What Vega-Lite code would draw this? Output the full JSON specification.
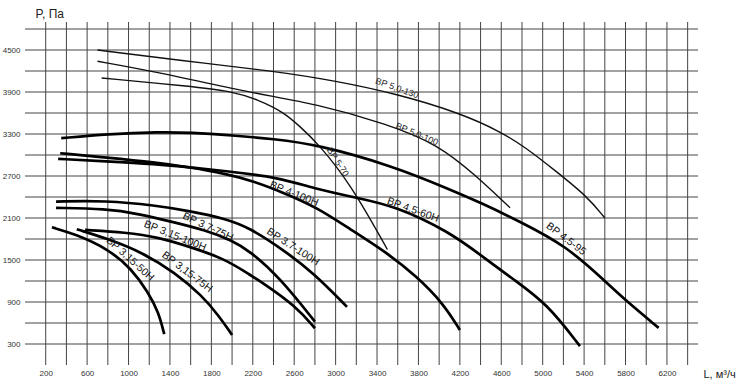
{
  "$schema": "https://vega.github.io/schema/vega-lite/v6.json",
  "autosize": {"type": "none"},
  "padding": {"left": 25, "top": 22, "right": 57, "bottom": 23},
  "width": 673,
  "height": 343,
  "background": "white",
  "config": {
    "view": {"stroke": null},
    "font": "Liberation Sans",
    "axis": {
      "labelFont": "Liberation Sans", "titleFont": "Liberation Sans",
      "grid": false, "domain": false, "ticks": false, "labelFontSize": 8, "labelColor": "#333",
      "labelOverlap": false, "labelFlush": false, "labelBound": false,
      "titleFontWeight": "normal", "titleColor": "#222"
    },
    "axisX": {"labelPadding": 4, "titleFontSize": 11, "titleX": 678, "titleY": 9, "titleAlign": "left", "titleBaseline": "middle"},
    "axisY": {"labelPadding": 5, "titleFontSize": 12, "titleAngle": 0, "titleX": 10, "titleY": -9, "titleAlign": "left", "titleBaseline": "middle"}
  },
  "datasets": {
    "gridx": [{"g": 200}, {"g": 400}, {"g": 600}, {"g": 800}, {"g": 1000}, {"g": 1200}, {"g": 1400}, {"g": 1600}, {"g": 1800}, {"g": 2000}, {"g": 2200}, {"g": 2400}, {"g": 2600}, {"g": 2800}, {"g": 3000}, {"g": 3200}, {"g": 3400}, {"g": 3600}, {"g": 3800}, {"g": 4000}, {"g": 4200}, {"g": 4400}, {"g": 4600}, {"g": 4800}, {"g": 5000}, {"g": 5200}, {"g": 5400}, {"g": 5600}, {"g": 5800}, {"g": 6000}, {"g": 6200}, {"g": 6400}],
    "gridy": [{"g": 300}, {"g": 600}, {"g": 900}, {"g": 1200}, {"g": 1500}, {"g": 1800}, {"g": 2100}, {"g": 2400}, {"g": 2700}, {"g": 3000}, {"g": 3300}, {"g": 3600}, {"g": 3900}, {"g": 4200}, {"g": 4500}, {"g": 4800}],
    "curves": [
      {"s": "5,0-130", "x": 700, "y": 4500}, {"s": "5,0-130", "x": 1500, "y": 4350}, {"s": "5,0-130", "x": 2400, "y": 4200}, {"s": "5,0-130", "x": 3000, "y": 4060}, {"s": "5,0-130", "x": 3600, "y": 3870}, {"s": "5,0-130", "x": 4200, "y": 3600}, {"s": "5,0-130", "x": 4600, "y": 3330}, {"s": "5,0-130", "x": 4850, "y": 3090}, {"s": "5,0-130", "x": 5100, "y": 2800}, {"s": "5,0-130", "x": 5430, "y": 2410}, {"s": "5,0-130", "x": 5600, "y": 2100},
      {"s": "5,0-100", "x": 700, "y": 4340}, {"s": "5,0-100", "x": 1300, "y": 4180}, {"s": "5,0-100", "x": 2170, "y": 3890}, {"s": "5,0-100", "x": 2820, "y": 3730}, {"s": "5,0-100", "x": 3500, "y": 3440}, {"s": "5,0-100", "x": 3990, "y": 3150}, {"s": "5,0-100", "x": 4360, "y": 2700}, {"s": "5,0-100", "x": 4685, "y": 2245},
      {"s": "5-70", "x": 740, "y": 4100}, {"s": "5-70", "x": 1600, "y": 3980}, {"s": "5-70", "x": 2000, "y": 3910}, {"s": "5-70", "x": 2250, "y": 3790}, {"s": "5-70", "x": 2500, "y": 3610}, {"s": "5-70", "x": 2660, "y": 3400}, {"s": "5-70", "x": 2820, "y": 3180}, {"s": "5-70", "x": 3140, "y": 2600}, {"s": "5-70", "x": 3500, "y": 1650},
      {"s": "4.5-95", "x": 350, "y": 3240}, {"s": "4.5-95", "x": 800, "y": 3300}, {"s": "4.5-95", "x": 1300, "y": 3330}, {"s": "4.5-95", "x": 1600, "y": 3320}, {"s": "4.5-95", "x": 2000, "y": 3280}, {"s": "4.5-95", "x": 2400, "y": 3230}, {"s": "4.5-95", "x": 2820, "y": 3150}, {"s": "4.5-95", "x": 3560, "y": 2840}, {"s": "4.5-95", "x": 4100, "y": 2510}, {"s": "4.5-95", "x": 4400, "y": 2320}, {"s": "4.5-95", "x": 4780, "y": 2050}, {"s": "4.5-95", "x": 5230, "y": 1700}, {"s": "4.5-95", "x": 5600, "y": 1200}, {"s": "4.5-95", "x": 5810, "y": 910}, {"s": "4.5-95", "x": 6120, "y": 530},
      {"s": "4.5-60Н", "x": 320, "y": 2945}, {"s": "4.5-60Н", "x": 780, "y": 2910}, {"s": "4.5-60Н", "x": 1260, "y": 2870}, {"s": "4.5-60Н", "x": 1590, "y": 2825}, {"s": "4.5-60Н", "x": 1940, "y": 2770}, {"s": "4.5-60Н", "x": 2450, "y": 2680}, {"s": "4.5-60Н", "x": 2820, "y": 2510}, {"s": "4.5-60Н", "x": 3200, "y": 2390}, {"s": "4.5-60Н", "x": 3580, "y": 2270}, {"s": "4.5-60Н", "x": 4100, "y": 1900}, {"s": "4.5-60Н", "x": 4400, "y": 1570}, {"s": "4.5-60Н", "x": 4720, "y": 1220}, {"s": "4.5-60Н", "x": 5040, "y": 880}, {"s": "4.5-60Н", "x": 5360, "y": 270},
      {"s": "4-100Н", "x": 340, "y": 3025}, {"s": "4-100Н", "x": 780, "y": 2965}, {"s": "4-100Н", "x": 1260, "y": 2895}, {"s": "4-100Н", "x": 1590, "y": 2825}, {"s": "4-100Н", "x": 1940, "y": 2730}, {"s": "4-100Н", "x": 2190, "y": 2635}, {"s": "4-100Н", "x": 2500, "y": 2460}, {"s": "4-100Н", "x": 2820, "y": 2250}, {"s": "4-100Н", "x": 3140, "y": 1940}, {"s": "4-100Н", "x": 3480, "y": 1620}, {"s": "4-100Н", "x": 3780, "y": 1270}, {"s": "4-100Н", "x": 4040, "y": 880}, {"s": "4-100Н", "x": 4200, "y": 500},
      {"s": "3.7-100Н", "x": 300, "y": 2335}, {"s": "3.7-100Н", "x": 780, "y": 2350}, {"s": "3.7-100Н", "x": 1260, "y": 2280}, {"s": "3.7-100Н", "x": 1590, "y": 2200}, {"s": "3.7-100Н", "x": 1940, "y": 2090}, {"s": "3.7-100Н", "x": 2170, "y": 1960}, {"s": "3.7-100Н", "x": 2500, "y": 1640}, {"s": "3.7-100Н", "x": 2790, "y": 1310}, {"s": "3.7-100Н", "x": 3110, "y": 830},
      {"s": "3.7-75Н", "x": 300, "y": 2245}, {"s": "3.7-75Н", "x": 780, "y": 2232}, {"s": "3.7-75Н", "x": 1100, "y": 2160}, {"s": "3.7-75Н", "x": 1420, "y": 2045}, {"s": "3.7-75Н", "x": 1745, "y": 1925}, {"s": "3.7-75Н", "x": 2000, "y": 1780}, {"s": "3.7-75Н", "x": 2170, "y": 1630}, {"s": "3.7-75Н", "x": 2460, "y": 1250}, {"s": "3.7-75Н", "x": 2800, "y": 620},
      {"s": "3,15-100Н", "x": 580, "y": 1930}, {"s": "3,15-100Н", "x": 970, "y": 1895}, {"s": "3,15-100Н", "x": 1290, "y": 1825}, {"s": "3,15-100Н", "x": 1610, "y": 1680}, {"s": "3,15-100Н", "x": 1930, "y": 1515}, {"s": "3,15-100Н", "x": 2170, "y": 1290}, {"s": "3,15-100Н", "x": 2300, "y": 1171}, {"s": "3,15-100Н", "x": 2620, "y": 835}, {"s": "3,15-100Н", "x": 2800, "y": 525},
      {"s": "3,15-75Н", "x": 500, "y": 1940}, {"s": "3,15-75Н", "x": 805, "y": 1800}, {"s": "3,15-75Н", "x": 1130, "y": 1610}, {"s": "3,15-75Н", "x": 1450, "y": 1320}, {"s": "3,15-75Н", "x": 1710, "y": 990}, {"s": "3,15-75Н", "x": 1870, "y": 706}, {"s": "3,15-75Н", "x": 2000, "y": 430},
      {"s": "3,15-50Н", "x": 260, "y": 1967}, {"s": "3,15-50Н", "x": 480, "y": 1872}, {"s": "3,15-50Н", "x": 805, "y": 1658}, {"s": "3,15-50Н", "x": 1030, "y": 1372}, {"s": "3,15-50Н", "x": 1190, "y": 1039}, {"s": "3,15-50Н", "x": 1290, "y": 753}, {"s": "3,15-50Н", "x": 1345, "y": 440}
    ],
    "labels": [
      {"t": "ВР 5,0-130", "x": 3593, "y": 3957},
      {"t": "ВР 5,0-100", "x": 3786, "y": 3300},
      {"t": "ВР 5-70", "x": 3023, "y": 2900},
      {"t": "ВР 4-100Н", "x": 2598, "y": 2443},
      {"t": "ВР 4.5-60Н", "x": 3747, "y": 2214},
      {"t": "ВР 4.5-95", "x": 5225, "y": 1800},
      {"t": "ВР 3.7-75Н", "x": 1767, "y": 1971},
      {"t": "ВР 3.7-100Н", "x": 2588, "y": 1686},
      {"t": "ВР 3,15-100Н", "x": 1449, "y": 1843},
      {"t": "ВР 3,15-75Н", "x": 1565, "y": 1329},
      {"t": "ВР 3,15-50Н", "x": 1014, "y": 1514}
    ]
  },
  "layer": [
    {
      "data": {"name": "gridx"},
      "mark": {"type": "rule", "stroke": "#444", "strokeWidth": 1},
      "encoding": {
        "x": {"field": "g", "type": "quantitative", "scale": {"domain": [0, 6500], "nice": false, "zero": false},
          "axis": {"values": [200,400,600,800,1000,1200,1400,1600,1800,2000,2200,2400,2600,2800,3000,3200,3400,3600,3800,4000,4200,4400,4600,4800,5000,5200,5400,5600,5800,6000,6200,6400], "format": "d", "title": "L, м³/ч", "labelOverlap": false}}
      }
    },
    {
      "data": {"name": "gridy"},
      "mark": {"type": "rule", "stroke": "#444", "strokeWidth": 1},
      "encoding": {
        "y": {"field": "g", "type": "quantitative", "scale": {"domain": [0, 4900], "nice": false, "zero": false},
          "axis": {"values": [300,600,900,1200,1500,1800,2100,2400,2700,3000,3300,3600,3900,4200,4500,4800], "format": "d", "title": "P, Па", "labelOverlap": false}}
      }
    },
    {
      "data": {"name": "curves"},
      "transform": [{"filter": {"field": "s", "oneOf": ["5,0-130", "5,0-100", "5-70"]}}],
      "mark": {"type": "line", "interpolate": "basis", "stroke": "#111", "strokeWidth": 1.4, "clip": false},
      "encoding": {
        "x": {"field": "x", "type": "quantitative", "axis": {"title": "L, м³/ч", "labelOverlap": false}},
        "y": {"field": "y", "type": "quantitative", "axis": {"title": "P, Па", "labelOverlap": false}},
        "detail": {"field": "s"}
      }
    },
    {
      "data": {"name": "curves"},
      "transform": [{"filter": {"not": {"field": "s", "oneOf": ["5,0-130", "5,0-100", "5-70"]}}}],
      "mark": {"type": "line", "interpolate": "basis", "stroke": "#000", "strokeWidth": 2.7, "clip": false},
      "encoding": {
        "x": {"field": "x", "type": "quantitative", "axis": {"title": "L, м³/ч", "labelOverlap": false}},
        "y": {"field": "y", "type": "quantitative", "axis": {"title": "P, Па", "labelOverlap": false}},
        "detail": {"field": "s"}
      }
    },
    {
      "mark": {"type": "rule", "stroke": "#000", "strokeWidth": 1.5, "clip": false},
      "encoding": {"x": {"datum": 0, "axis": {"title": "L, м³/ч", "labelOverlap": false}}, "x2": {"datum": 6760}, "y": {"datum": 0, "axis": {"title": "P, Па", "labelOverlap": false}}}
    },
    {
      "mark": {"type": "rule", "stroke": "#000", "strokeWidth": 1.5, "clip": false},
      "encoding": {"x": {"datum": 0, "axis": {"title": "L, м³/ч", "labelOverlap": false}}, "y": {"datum": 0, "axis": {"title": "P, Па", "labelOverlap": false}}, "y2": {"datum": 5040}}
    },
    {
      "mark": {"type": "point", "shape": "triangle-right", "filled": true, "color": "#000", "size": 60, "opacity": 1, "clip": false},
      "encoding": {"x": {"datum": 6770, "axis": {"title": "L, м³/ч", "labelOverlap": false}}, "y": {"datum": 0, "axis": {"title": "P, Па", "labelOverlap": false}}}
    },
    {
      "mark": {"type": "point", "shape": "triangle-up", "filled": true, "color": "#000", "size": 60, "opacity": 1, "clip": false},
      "encoding": {"x": {"datum": 0, "axis": {"title": "L, м³/ч", "labelOverlap": false}}, "y": {"datum": 5050, "axis": {"title": "P, Па", "labelOverlap": false}}}
    },
    {"data": {"name": "labels"}, "transform": [{"filter": "datum.t == 'ВР 5,0-130'"}], "mark": {"type": "text", "angle": 20, "fontSize": 9, "color": "#222"}, "encoding": {"x": {"field": "x", "type": "quantitative", "axis": {"title": "L, м³/ч", "labelOverlap": false}}, "y": {"field": "y", "type": "quantitative", "axis": {"title": "P, Па", "labelOverlap": false}}, "text": {"field": "t"}}},
    {"data": {"name": "labels"}, "transform": [{"filter": "datum.t == 'ВР 5,0-100'"}], "mark": {"type": "text", "angle": 23, "fontSize": 9, "color": "#222"}, "encoding": {"x": {"field": "x", "type": "quantitative", "axis": {"title": "L, м³/ч", "labelOverlap": false}}, "y": {"field": "y", "type": "quantitative", "axis": {"title": "P, Па", "labelOverlap": false}}, "text": {"field": "t"}}},
    {"data": {"name": "labels"}, "transform": [{"filter": "datum.t == 'ВР 5-70'"}], "mark": {"type": "text", "angle": 57, "fontSize": 9, "color": "#222"}, "encoding": {"x": {"field": "x", "type": "quantitative", "axis": {"title": "L, м³/ч", "labelOverlap": false}}, "y": {"field": "y", "type": "quantitative", "axis": {"title": "P, Па", "labelOverlap": false}}, "text": {"field": "t"}}},
    {"data": {"name": "labels"}, "transform": [{"filter": "datum.t == 'ВР 4-100Н'"}], "mark": {"type": "text", "angle": 22, "fontSize": 10.5, "color": "#111"}, "encoding": {"x": {"field": "x", "type": "quantitative", "axis": {"title": "L, м³/ч", "labelOverlap": false}}, "y": {"field": "y", "type": "quantitative", "axis": {"title": "P, Па", "labelOverlap": false}}, "text": {"field": "t"}}},
    {"data": {"name": "labels"}, "transform": [{"filter": "datum.t == 'ВР 4.5-60Н'"}], "mark": {"type": "text", "angle": 20, "fontSize": 10.5, "color": "#111"}, "encoding": {"x": {"field": "x", "type": "quantitative", "axis": {"title": "L, м³/ч", "labelOverlap": false}}, "y": {"field": "y", "type": "quantitative", "axis": {"title": "P, Па", "labelOverlap": false}}, "text": {"field": "t"}}},
    {"data": {"name": "labels"}, "transform": [{"filter": "datum.t == 'ВР 4.5-95'"}], "mark": {"type": "text", "angle": 37, "fontSize": 10.5, "color": "#111"}, "encoding": {"x": {"field": "x", "type": "quantitative", "axis": {"title": "L, м³/ч", "labelOverlap": false}}, "y": {"field": "y", "type": "quantitative", "axis": {"title": "P, Па", "labelOverlap": false}}, "text": {"field": "t"}}},
    {"data": {"name": "labels"}, "transform": [{"filter": "datum.t == 'ВР 3.7-75Н'"}], "mark": {"type": "text", "angle": 25, "fontSize": 10.5, "color": "#111"}, "encoding": {"x": {"field": "x", "type": "quantitative", "axis": {"title": "L, м³/ч", "labelOverlap": false}}, "y": {"field": "y", "type": "quantitative", "axis": {"title": "P, Па", "labelOverlap": false}}, "text": {"field": "t"}}},
    {"data": {"name": "labels"}, "transform": [{"filter": "datum.t == 'ВР 3.7-100Н'"}], "mark": {"type": "text", "angle": 33, "fontSize": 10.5, "color": "#111"}, "encoding": {"x": {"field": "x", "type": "quantitative", "axis": {"title": "L, м³/ч", "labelOverlap": false}}, "y": {"field": "y", "type": "quantitative", "axis": {"title": "P, Па", "labelOverlap": false}}, "text": {"field": "t"}}},
    {"data": {"name": "labels"}, "transform": [{"filter": "datum.t == 'ВР 3,15-100Н'"}], "mark": {"type": "text", "angle": 22, "fontSize": 10.5, "color": "#111"}, "encoding": {"x": {"field": "x", "type": "quantitative", "axis": {"title": "L, м³/ч", "labelOverlap": false}}, "y": {"field": "y", "type": "quantitative", "axis": {"title": "P, Па", "labelOverlap": false}}, "text": {"field": "t"}}},
    {"data": {"name": "labels"}, "transform": [{"filter": "datum.t == 'ВР 3,15-75Н'"}], "mark": {"type": "text", "angle": 37, "fontSize": 10.5, "color": "#111"}, "encoding": {"x": {"field": "x", "type": "quantitative", "axis": {"title": "L, м³/ч", "labelOverlap": false}}, "y": {"field": "y", "type": "quantitative", "axis": {"title": "P, Па", "labelOverlap": false}}, "text": {"field": "t"}}},
    {"data": {"name": "labels"}, "transform": [{"filter": "datum.t == 'ВР 3,15-50Н'"}], "mark": {"type": "text", "angle": 42, "fontSize": 10.5, "color": "#111"}, "encoding": {"x": {"field": "x", "type": "quantitative", "axis": {"title": "L, м³/ч", "labelOverlap": false}}, "y": {"field": "y", "type": "quantitative", "axis": {"title": "P, Па", "labelOverlap": false}}, "text": {"field": "t"}}}
  ]
}
